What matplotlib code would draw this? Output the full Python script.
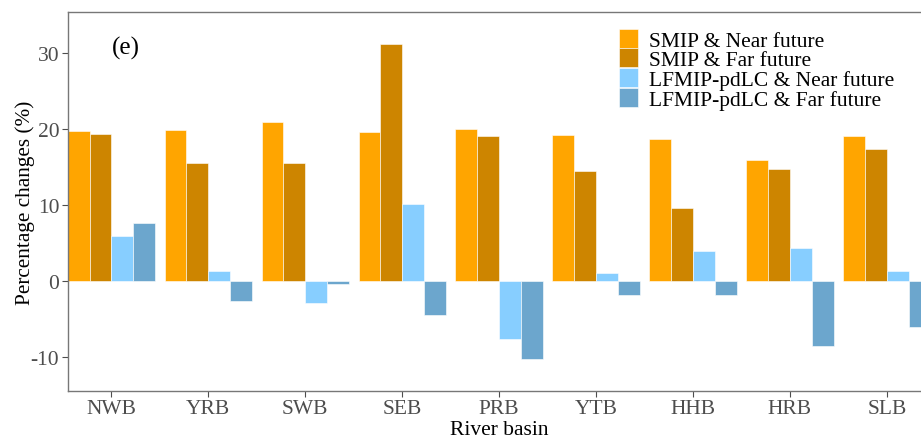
import matplotlib
matplotlib.use("Agg")
import matplotlib.pyplot as plt
import numpy as np

basins = ["NWB", "YRB", "SWB", "SEB", "PRB", "YTB", "HHB", "HRB", "SLB"]
series_labels = ["SMIP & Near future", "SMIP & Far future",
                 "LFMIP-pdLC & Near future", "LFMIP-pdLC & Far future"]
smip_near = [19.8, 19.9, 21.0, 19.7, 20.1, 19.3, 18.7, 15.9, 19.1]
smip_far = [19.4, 15.6, 15.5, 31.3, 19.1, 14.5, 9.6, 14.8, 17.4]
lf_near = [5.9, 1.3, -2.9, 10.2, -7.6, 1.1, 4.0, 4.4, 1.3]
lf_far = [7.7, -2.6, -0.4, -4.5, -10.3, -1.8, -1.9, -8.5, -6.0]
colors = ["#FFA500", "#CD8500", "#87CEFF", "#6CA6CD"]
yticks = [-10, 0, 10, 20, 30]

plt.rcParams['font.family'] = ['Liberation Serif', 'DejaVu Serif']
plt.rcParams['axes.unicode_minus'] = False

fig = plt.figure(figsize=(9.21, 4.39), dpi=100)
ax = fig.add_axes([0.0735, 0.107, 0.9368, 0.864])

series = [smip_near, smip_far, lf_near, lf_far]
x = np.arange(len(basins))
bw = 0.9 / 4
for i, (vals, c, lab) in enumerate(zip(series, colors, series_labels)):
    ax.bar(x - 0.45 + bw * (i + 0.5), vals, width=bw, color=c,
           edgecolor="white", linewidth=0.4, label=lab)

ax.set_xlim(-0.45, len(basins) - 1 + 0.45)
ax.set_ylim(-14.5, 35.5)
ax.set_xticks(x)
ax.set_xticklabels(basins)
ax.set_yticks(yticks)

grey = "#4D4D4D"
for s in ["left", "bottom", "top", "right"]:
    ax.spines[s].set_color("#777777")
    ax.spines[s].set_linewidth(1.0)
ax.tick_params(axis="both", colors=grey, labelsize=15.5, length=4, width=0.8,
               labelcolor=grey)
ax.tick_params(axis="x", pad=2)
ax.tick_params(axis="y", pad=2)

ax.set_xlabel("River basin", fontsize=15.5, labelpad=1)
ax.set_ylabel("Percentage changes (%)", fontsize=15.3, labelpad=-3)

ax.text(0.051, 0.905, "(e)", transform=ax.transAxes, fontsize=18,
        ha="left", va="center")

leg = ax.legend(loc="upper left", bbox_to_anchor=(0.6395, 0.955), frameon=False,
                fontsize=15.5, labelspacing=-0.1, handlelength=0.85,
                handleheight=0.97, handletextpad=0.5, borderaxespad=0,
                borderpad=0)

fig.savefig("out.png", dpi=100)
